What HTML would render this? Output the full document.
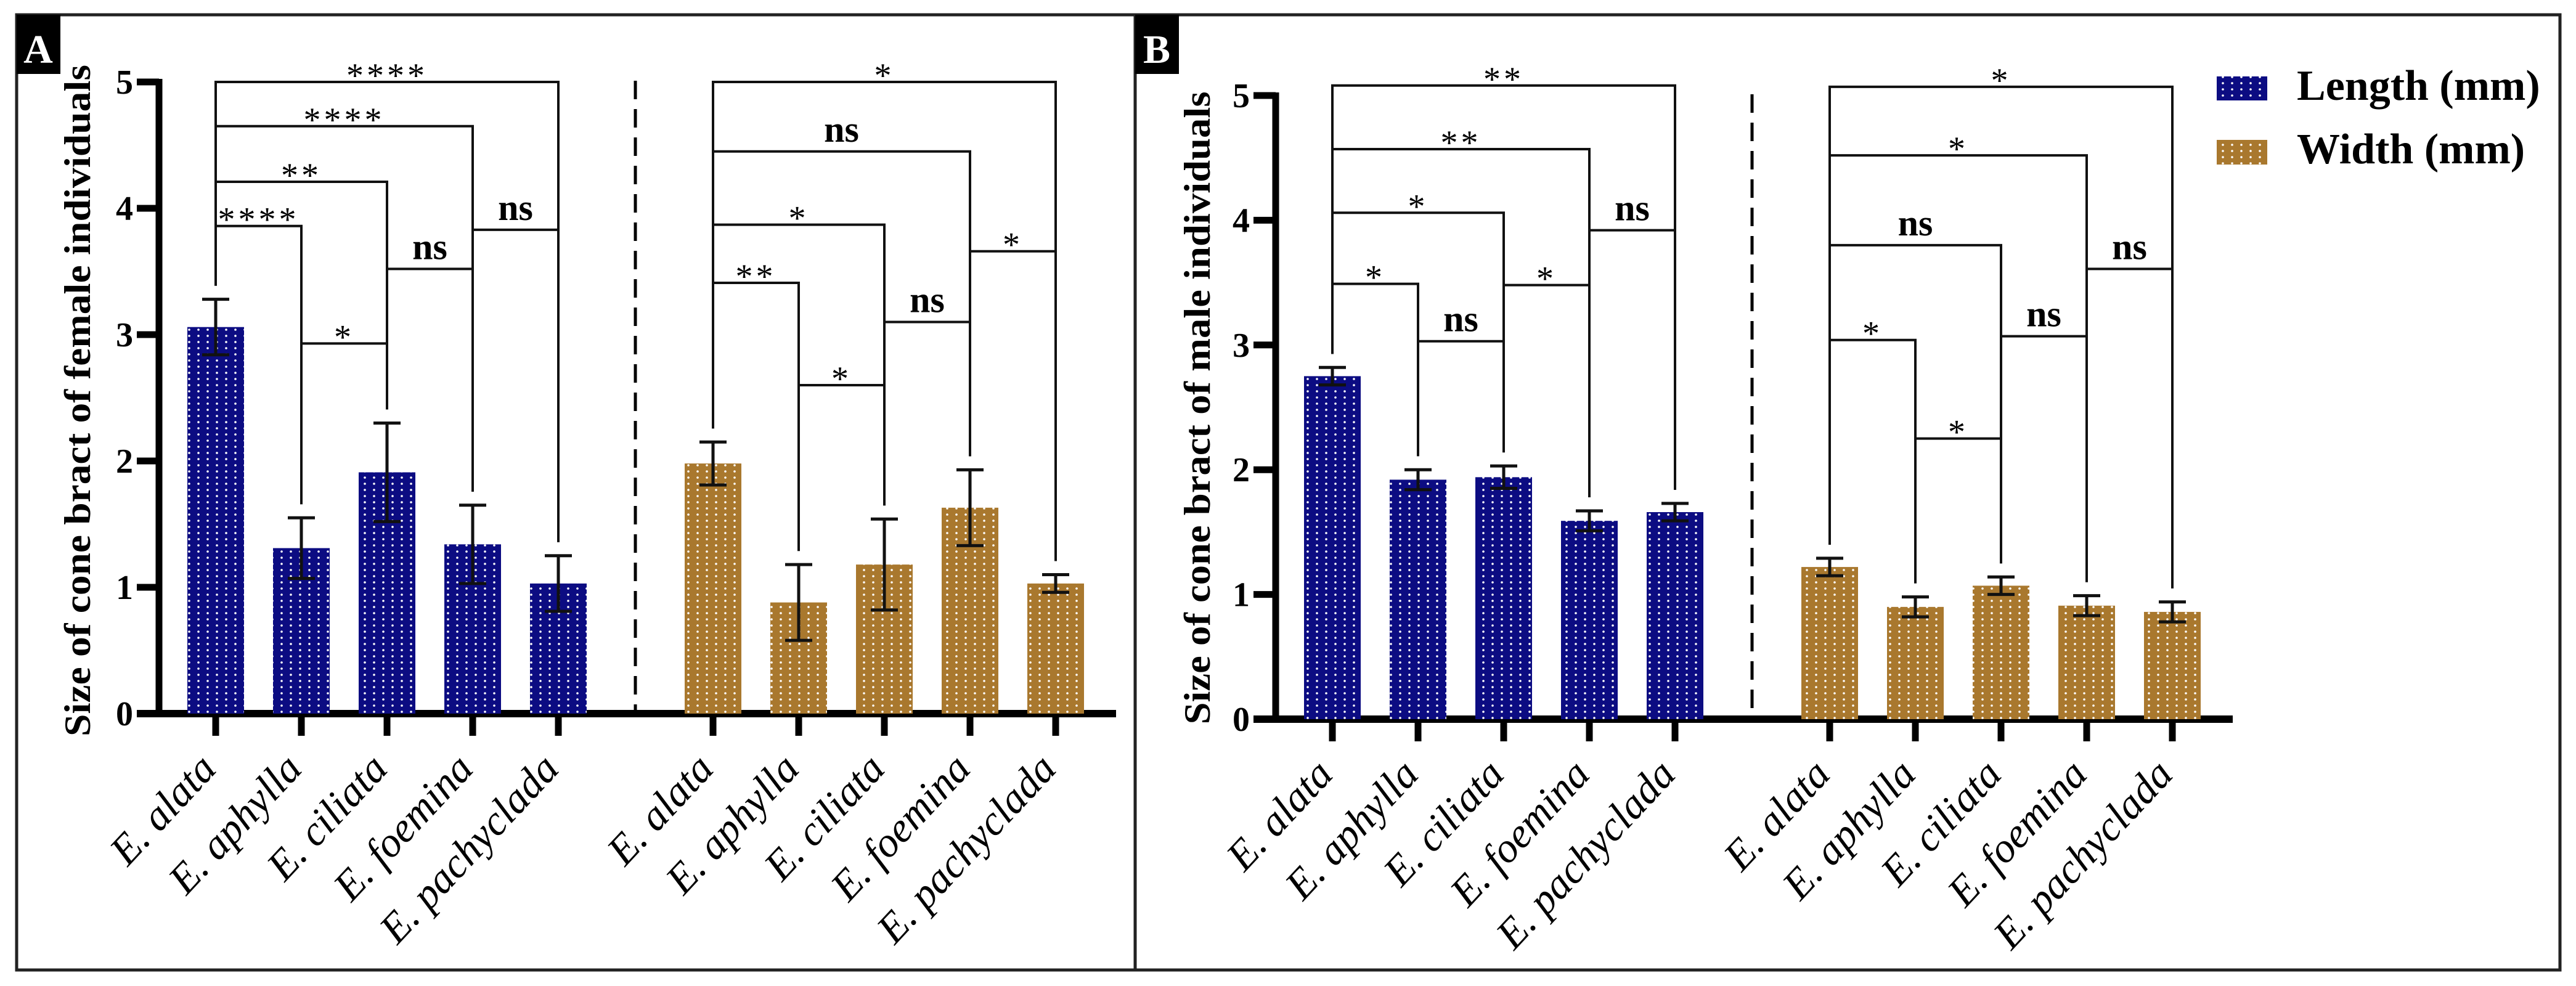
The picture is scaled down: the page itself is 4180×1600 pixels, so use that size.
<!DOCTYPE html>
<html><head><meta charset="utf-8">
<style>
html,body{margin:0;padding:0;background:#fff;}
svg{display:block;}
svg text{font-family:"Liberation Serif","Times New Roman","DejaVu Serif",serif !important;}
</style></head>
<body>
<svg id="chart" width="4180" height="1600" viewBox="0 0 4180 1600" xmlns="http://www.w3.org/2000/svg" font-family="Liberation Serif, Times New Roman, serif">
<defs>
<pattern id="dotBlue" patternUnits="userSpaceOnUse" width="15" height="10">
<rect width="15" height="10" fill="#0c0c82"/><circle cx="7" cy="5" r="1.8" fill="#fff"/>
</pattern>
<pattern id="dotBrown" patternUnits="userSpaceOnUse" width="15" height="10">
<rect width="15" height="10" fill="#a9782e"/><circle cx="7" cy="5" r="1.8" fill="#fff"/>
</pattern>
</defs>
<rect x="27" y="24" width="4127" height="1550" fill="none" stroke="#222" stroke-width="5"/>
<line x1="1842" y1="24" x2="1842" y2="1574" stroke="#222" stroke-width="5"/>
<g><rect x="27" y="24" width="71" height="96" fill="#000"/><text x="62" y="102" font-family="Liberation Serif, serif" font-size="66" font-weight="bold" fill="#fff" text-anchor="middle">A</text></g>
<g><rect x="1842" y="24" width="71" height="96" fill="#000"/><text x="1877" y="102" font-family="Liberation Serif, serif" font-size="66" font-weight="bold" fill="#fff" text-anchor="middle">B</text></g>
<g id="plots"></g>
<g>
<rect x="3597" y="124" width="82" height="39" fill="url(#dotBlue)"/>
<text x="3727" y="162" font-family="Liberation Serif, serif" font-size="70" font-weight="bold">Length (mm)</text>
<rect x="3597" y="227" width="82" height="40" fill="url(#dotBrown)"/>
<text x="3727" y="265" font-family="Liberation Serif, serif" font-size="70" font-weight="bold">Width (mm)</text>
</g>
</svg>
<script>
const categories = ['E. alata','E. aphylla','E. ciliata','E. foemina','E. pachyclada'];
const yTicks = [0,1,2,3,4,5];
const femaleLength = [3.06,1.31,1.91,1.34,1.03];
const femaleLengthErr = [0.22,0.24,0.39,0.31,0.22];
const femaleWidth = [1.98,0.88,1.18,1.63,1.03];
const femaleWidthErr = [0.17,0.30,0.36,0.30,0.07];
const maleLength = [2.75,1.92,1.94,1.59,1.66];
const maleLengthErr = [0.07,0.08,0.09,0.08,0.07];
const maleWidth = [1.22,0.90,1.07,0.91,0.86];
const maleWidthErr = [0.07,0.08,0.07,0.08,0.08];
const sigFemaleLength = [[0,4,5.0,'****'],[0,3,4.65,'****'],[0,2,4.21,'**'],[0,1,3.86,'****'],[1,2,2.93,'*'],[2,3,3.52,'ns'],[3,4,3.83,'ns']];
const sigFemaleWidth = [[0,4,5.0,'*'],[0,3,4.45,'ns'],[0,2,3.87,'*'],[0,1,3.41,'**'],[1,2,2.6,'*'],[2,3,3.1,'ns'],[3,4,3.66,'*']];
const sigMaleLength = [[0,4,5.08,'**'],[0,3,4.57,'**'],[0,2,4.06,'*'],[0,1,3.49,'*'],[1,2,3.03,'ns'],[2,3,3.48,'*'],[3,4,3.92,'ns']];
const sigMaleWidth = [[0,4,5.07,'*'],[0,3,4.52,'*'],[0,2,3.8,'ns'],[0,1,3.04,'*'],[1,2,2.25,'*'],[2,3,3.07,'ns'],[3,4,3.61,'ns']];

const NS='http://www.w3.org/2000/svg';
const FONT='Liberation Serif, Times New Roman, serif';
const root=document.getElementById('plots');
function mk(tag,attrs,parent){const e=document.createElementNS(NS,tag);for(const k in attrs)e.setAttribute(k,attrs[k]);if(tag==='text')e.setAttribute('font-family',FONT);(parent||root).appendChild(e);return e;}

function drawPanel(p){
  const y=v=>p.y0-v*p.unit;
  const g=mk('g',{});
  
  
  const xL=i=>p.firstX+i*139;
  const xW=i=>p.firstX+4*139+251+i*139;
  const endX=xW(4)+98;
  const t=mk('text',{x:0,y:0,'font-size':60,'font-weight':'bold','text-anchor':'middle',transform:`translate(${p.titleX},${p.titleY}) rotate(-90)`,textLength:p.titleLen,lengthAdjust:'spacingAndGlyphs'},g);
  t.textContent=p.title;
  
  
  const ya=mk('line',{x1:p.axisX,y1:y(5)-5,x2:p.axisX,y2:y(0)+6,stroke:'#000','stroke-width':11},g);
  
  
  yTicks.forEach(v=>{
    const tk=mk('line',{x1:p.axisX-36,y1:y(v),x2:p.axisX,y2:y(v),stroke:'#000','stroke-width':11},g);
    
    
    const tl=mk('text',{x:p.axisX-42,y:y(v)+19,'font-size':56,'font-weight':'bold','text-anchor':'end'},g);
    tl.textContent=v;
    
    
  });
  const xa=mk('line',{x1:p.axisX-36,y1:y(0),x2:endX,y2:y(0),stroke:'#000','stroke-width':12},g);
  
  
  const dl=mk('line',{x1:xL(4)+125,y1:y(5)-2,x2:xL(4)+125,y2:y(0)-6,stroke:'#000','stroke-width':5,'stroke-dasharray':'30 16'},g);
  
  
  function bars(vals,errs,xf,fill,series,sig){
    vals.forEach((v,i)=>{
      const cx=xf(i);
      const r=mk('rect',{x:cx-46,y:y(v),width:92,height:y(0)-y(v),fill:fill},g);
      
      
      const eg=mk('g',{stroke:'#111','stroke-width':5},g);
      
      
      mk('line',{x1:cx,y1:y(v+errs[i]),x2:cx,y2:y(v-errs[i]),},eg);
      mk('line',{x1:cx-22,y1:y(v+errs[i]),x2:cx+22,y2:y(v+errs[i])},eg);
      mk('line',{x1:cx-22,y1:y(v-errs[i]),x2:cx+22,y2:y(v-errs[i])},eg);
      const tk=mk('line',{x1:cx,y1:y(0),x2:cx,y2:y(0)+36,stroke:'#000','stroke-width':11},g);
      
      
      const lb=mk('text',{x:0,y:0,'font-size':68,'font-style':'italic','text-anchor':'end',transform:`translate(${cx+4},${y(0)+92}) rotate(-47)`},g);
      lb.textContent=categories[i];
      
      
    });
    sig.forEach(s=>{
      const [a,b,h,lab]=s;
      const xa_=xf(a),xb=xf(b),yy=y(h);
      const la=y(vals[a]+errs[a])-22, lb_=y(vals[b]+errs[b])-22;
      const br=mk('path',{d:`M${xa_},${la}V${yy}H${xb}V${lb_}`,fill:'none',stroke:'#111','stroke-width':4},g);
      
      
      const isNs=lab==='ns';
      const tx=mk('text',{x:(xa_+xb)/2,y:isNs?yy-16:yy+8,'font-size':isNs?60:56,'font-weight':isNs?'bold':'normal','text-anchor':'middle','letter-spacing':isNs?0:5},g);
      tx.textContent=lab;
      
      
    });
  }
  bars(p.len,p.lenErr,xL,'url(#dotBlue)','length',p.sigLen);
  bars(p.wid,p.widErr,xW,'url(#dotBrown)','width',p.sigWid);
}
drawPanel({name:'panel-a-female',axisX:258,firstX:350,y0:1158,unit:205,titleX:146,titleY:650,titleLen:1090,
  title:'Size of cone bract of female individuals',len:femaleLength,lenErr:femaleLengthErr,wid:femaleWidth,widErr:femaleWidthErr,sigLen:sigFemaleLength,sigWid:sigFemaleWidth});
drawPanel({name:'panel-b-male',axisX:2070,firstX:2162,y0:1167,unit:202.4,titleX:1963,titleY:662,titleLen:1027,
  title:'Size of cone bract of male individuals',len:maleLength,lenErr:maleLengthErr,wid:maleWidth,widErr:maleWidthErr,sigLen:sigMaleLength,sigWid:sigMaleWidth});
</script>
</body></html>
